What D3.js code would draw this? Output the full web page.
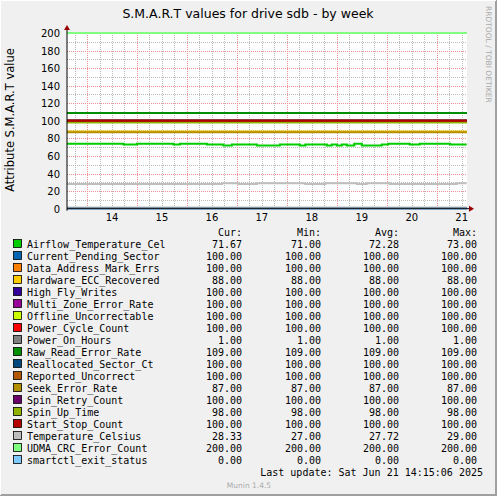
<!DOCTYPE html><html><head><meta charset="utf-8"><script src="https://cdn.jsdelivr.net/npm/d3@7"></script>
<style>body{margin:0;background:#f0f0f0}</style></head><body><svg id="c" width="497" height="496"></svg>
<script>
const names=["Airflow_Temperature_Cel","Current_Pending_Sector","Data_Address_Mark_Errs","Hardware_ECC_Recovered","High_Fly_Writes","Multi_Zone_Error_Rate","Offline_Uncorrectable","Power_Cycle_Count","Power_On_Hours","Raw_Read_Error_Rate","Reallocated_Sector_Ct","Reported_Uncorrect","Seek_Error_Rate","Spin_Retry_Count","Spin_Up_Time","Start_Stop_Count","Temperature_Celsius","UDMA_CRC_Error_Count","smartctl_exit_status"];
const colors=["#00cc00","#0066b3","#ff8000","#ffcc00","#330099","#990099","#ccff00","#ff0000","#808080","#008f00","#00487d","#b35a00","#b38f00","#6b006b","#8fb300","#b30000","#bebebe","#80ff80","#80c9ff"];
const cur=["71.67","100.00","100.00","88.00","100.00","100.00","100.00","100.00","1.00","109.00","100.00","100.00","87.00","100.00","98.00","100.00","28.33","200.00","0.00"];
const mins=["71.00","100.00","100.00","88.00","100.00","100.00","100.00","100.00","1.00","109.00","100.00","100.00","87.00","100.00","98.00","100.00","27.00","200.00","0.00"];
const avgs=["72.28","100.00","100.00","88.00","100.00","100.00","100.00","100.00","1.00","109.00","100.00","100.00","87.00","100.00","98.00","100.00","27.72","200.00","0.00"];
const maxs=["73.00","100.00","100.00","88.00","100.00","100.00","100.00","100.00","1.00","109.00","100.00","100.00","87.00","100.00","98.00","100.00","29.00","200.00","0.00"];
const constVals=[null,100,100,88,100,100,100,100,1,109,100,100,87,100,98,100,null,200,0];
const airflow=[[13.1,74],[14.23,73],[14.5,74],[15.23,73],[15.36,74],[15.9,73],[16.23,72],[16.4,73],[16.9,72],[17.36,73],[17.76,72],[17.87,73],[18.3,72],[18.4,73],[18.5,72],[18.6,73],[18.7,72],[18.85,74],[19.0,72],[19.4,73],[19.53,74],[19.96,73],[20.16,74],[20.77,73],[21.1,73]];
const temp=[[13.1,28],[16.2,29],[16.53,28],[16.9,29],[17.87,28],[18.27,29],[18.9,28],[19.1,29],[19.56,28],[20.9,29],[21.1,29]];
const yTicks=[0,20,40,60,80,100,120,140,160,180,200];
const xTicks=[14,15,16,17,18,19,20,21];

const svg=d3.select("#c");
const L=67,R=467,T=33,B=208.7;
const x=d3.scaleLinear().domain([14,21]).range([112,461.7]);
const y=d3.scaleLinear().domain([0,200]).range([B,T]);
const x0=x.invert(L),x1=x.invert(R);
svg.append("rect").attr("x",0).attr("y",0).attr("width",497).attr("height",496).attr("fill","#f0f0f0");
svg.append("path").attr("d","M496,0V495H0").attr("stroke","#a0a0a0").attr("stroke-width",2).attr("fill","none");
svg.append("path").attr("d","M0.5,495V0.5H496").attr("stroke","#ffffff").attr("fill","none");
svg.append("rect").attr("x",L).attr("y",T).attr("width",R-L).attr("height",B-T).attr("fill","#fff");
const g=svg.append("g");
for(let v=0;v<=200;v+=10){ if(v%20) g.append("line").attr("x1",L).attr("x2",R).attr("y1",Math.round(y(v))+.5).attr("y2",Math.round(y(v))+.5).attr("stroke","#bbb").attr("stroke-dasharray","1,1");}
for(let d=Math.ceil(x0*4)/4;d<=x1;d+=0.25){ if(Math.abs(d*2-Math.round(d*2))>1e-6 || Math.abs(d-Math.round(d))<1e-6) g.append("line").attr("x1",Math.round(x(d))+.5).attr("x2",Math.round(x(d))+.5).attr("y1",T).attr("y2",B).attr("stroke","#bbb").attr("stroke-dasharray","1,1");}
yTicks.forEach(v=>g.append("line").attr("x1",L).attr("x2",R).attr("y1",Math.round(y(v))+.5).attr("y2",Math.round(y(v))+.5).attr("stroke","#f09090").attr("stroke-dasharray","1,1"));
for(let d=13.5;d<x1;d+=1) g.append("line").attr("x1",Math.round(x(d))+.5).attr("x2",Math.round(x(d))+.5).attr("y1",T).attr("y2",B).attr("stroke","#f09090").attr("stroke-dasharray","1,1");
const line=d3.line().x(d=>x(d[0])).y(d=>y(d[1])).curve(d3.curveStepAfter);
const series=names.map((n,i)=>i===0?airflow:i===16?temp:[[x0,constVals[i]],[x1,constVals[i]]]);
series.forEach((s,i)=>svg.append("path").attr("d",line(s)).attr("fill","none").attr("stroke",colors[i]).attr("stroke-width",2));
const ax=svg.append("g").attr("font-family","DejaVu Sans").attr("font-size",10).attr("fill","#000");
svg.append("line").attr("x1",L).attr("x2",R+4).attr("y1",B).attr("y2",B).attr("stroke","#000");
svg.append("line").attr("x1",L).attr("x2",L).attr("y1",B+2).attr("y2",T-6).attr("stroke","#000");
svg.append("path").attr("d",`M${R+2},${B-3}L${R+7},${B}L${R+2},${B+3}Z`).attr("fill","#900");
svg.append("path").attr("d",`M${L-3},${T-3}L${L},${T-8}L${L+3},${T-3}Z`).attr("fill","#900");
yTicks.forEach(v=>ax.append("text").attr("x",60).attr("y",y(v)+4).attr("text-anchor","end").text(v));
xTicks.forEach(v=>ax.append("text").attr("x",x(v)).attr("y",221).attr("text-anchor","middle").text(v));
svg.append("text").attr("x",248).attr("y",18).attr("text-anchor","middle").attr("font-family","DejaVu Sans").attr("font-size",12.5).text("S.M.A.R.T values for drive sdb - by week");
svg.append("text").attr("transform","translate(14,120) rotate(-90)").attr("text-anchor","middle").attr("font-family","DejaVu Sans").attr("font-size",11.5).text("Attribute S.M.A.R.T value");
svg.append("text").attr("transform","translate(486,6) rotate(90)").attr("font-family","DejaVu Sans").attr("font-size",7.5).attr("fill","#aaa").text("RRDTOOL / TOBI OETIKER");
const lg=svg.append("g").attr("font-family","DejaVu Sans Mono").attr("font-size",10);
const cols=[242,321,399,477],hdr=["Cur:","Min:","Avg:","Max:"];
hdr.forEach((h,j)=>lg.append("text").attr("x",cols[j]).attr("y",236).attr("text-anchor","end").text(h));
names.forEach((n,i)=>{const yy=248+i*12;
 lg.append("rect").attr("x",13.5).attr("y",yy-8.5).attr("width",8).attr("height",8).attr("fill",colors[i]).attr("stroke","#000").attr("stroke-width",0.8);
 lg.append("text").attr("x",27).attr("y",yy).text(n);
 [cur[i],mins[i],avgs[i],maxs[i]].forEach((v,j)=>lg.append("text").attr("x",cols[j]).attr("y",yy).attr("text-anchor","end").text(v));});
lg.append("text").attr("x",483).attr("y",476).attr("text-anchor","end").text("Last update: Sat Jun 21 14:15:06 2025");
svg.append("text").attr("x",249).attr("y",488).attr("text-anchor","middle").attr("font-family","DejaVu Sans").attr("font-size",7.5).attr("fill","#aaa").text("Munin 1.4.5");
</script></body></html>
